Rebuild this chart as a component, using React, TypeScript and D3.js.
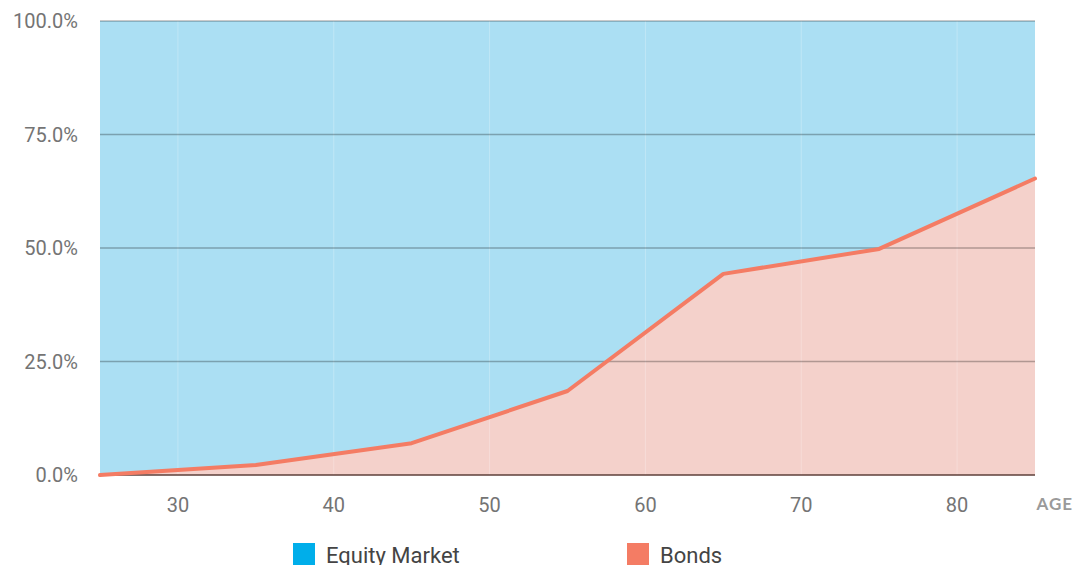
import { useEffect, useRef } from "react"
import * as d3 from "d3"

const ages = [25, 35, 45, 55, 65, 75, 85]
const bondShare = [0, 2.2, 7.0, 18.5, 44.3, 49.8, 65.3]
const xTicks = [30, 40, 50, 60, 70, 80]
const yTicks = [0, 25, 50, 75, 100]
const legendNames = ["Equity Market", "Bonds"]

const margin = { top: 21, left: 100, bottom: 90, right: 38 }
const W = 1073
const H = 565

export default function App() {
    const ref = useRef<SVGSVGElement>(null)

    useEffect(() => {
        const svg = d3.select(ref.current)
        svg.selectAll("*").remove()

        const width = W - margin.left - margin.right
        const height = H - margin.top - margin.bottom

        const x = d3.scaleLinear().domain([25, 85]).range([0, width])
        const y = d3.scaleLinear().domain([0, 100]).range([height, 0])

        const g = svg.append("g").attr("transform", `translate(${margin.left}, ${margin.top})`)

        // equity fills everything above bonds
        g.append("rect")
            .attr("width", width)
            .attr("height", height)
            .attr("fill", "#abdff3")

        const data = ages.map((a, i) => ({ age: a, v: bondShare[i] }))

        const area = d3.area<{ age: number, v: number }>()
            .x((d) => x(d.age))
            .y0(y(0))
            .y1((d) => y(d.v))

        g.append("path")
            .attr("d", area(data))
            .attr("fill", "#f4d1cb")

        // faint vertical guides
        g.selectAll(".vgrid")
            .data(xTicks)
            .join("line")
            .attr("class", "vgrid")
            .attr("x1", (d) => x(d))
            .attr("x2", (d) => x(d))
            .attr("y1", 0)
            .attr("y2", height)
            .attr("stroke", "#fff")
            .attr("stroke-opacity", 0.25)
            .attr("stroke-width", 1)

        g.selectAll(".hgrid")
            .data(yTicks.filter((d) => d > 0))
            .join("line")
            .attr("class", "hgrid")
            .attr("x1", 0)
            .attr("x2", width)
            .attr("y1", (d) => y(d))
            .attr("y2", (d) => y(d))
            .attr("stroke", "#000")
            .attr("stroke-opacity", 0.28)
            .attr("stroke-width", 1.5)

        g.append("line")
            .attr("x1", 0)
            .attr("x2", width)
            .attr("y1", y(0))
            .attr("y2", y(0))
            .attr("stroke", "#5e3f3a")
            .attr("stroke-width", 1.5)

        const line = d3.line<{ age: number, v: number }>()
            .x((d) => x(d.age))
            .y((d) => y(d.v))

        g.append("path")
            .attr("d", line(data))
            .attr("fill", "none")
            .attr("stroke", "#f47c64")
            .attr("stroke-width", 4)
            .attr("stroke-linejoin", "round")
            .attr("stroke-linecap", "round")

        g.selectAll(".ylab")
            .data(yTicks)
            .join("text")
            .attr("class", "ylab")
            .attr("x", -22)
            .attr("y", (d) => y(d))
            .attr("dy", "0.36em")
            .attr("text-anchor", "end")
            .style("font-family", "Roboto, sans-serif")
            .style("font-size", "20px")
            .attr("fill", "#747474")
            .text((d) => d3.format(".1f")(d) + "%")

        g.selectAll(".xlab")
            .data(xTicks)
            .join("text")
            .attr("class", "xlab")
            .attr("x", (d) => x(d))
            .attr("y", height + 30)
            .attr("dy", "0.36em")
            .attr("text-anchor", "middle")
            .style("font-family", "Roboto, sans-serif")
            .style("font-size", "20px")
            .attr("fill", "#747474")
            .text((d) => d)

        g.append("text")
            .attr("x", width + 38)
            .attr("y", height + 29)
            .attr("dy", "0.36em")
            .attr("text-anchor", "end")
            .style("font-family", "Lato, sans-serif")
            .style("font-size", "17px")
            .style("font-weight", "bold")
            .style("letter-spacing", "1px")
            .attr("fill", "#9a9a9a")
            .text("AGE")

        const legendX = d3.scaleOrdinal<string, number>().domain(legendNames).range([293, 627])
        const legendColor = d3.scaleOrdinal<string, string>().domain(legendNames).range(["#00aeea", "#f47c64"])

        const legend = svg.selectAll(".legend")
            .data(legendNames)
            .join("g")
            .attr("class", "legend")
            .attr("transform", (d) => `translate(${legendX(d)}, 543)`)

        legend.append("rect")
            .attr("width", 22)
            .attr("height", 22)
            .attr("fill", (d) => legendColor(d))

        legend.append("text")
            .attr("x", 33)
            .attr("y", 20)
            .style("font-family", "Roboto, sans-serif")
            .style("font-size", "22px")
            .attr("fill", "#444")
            .text((d) => d)
    }, [])

    return (
        <svg ref={ref} width={W} height={H} style={{ position: "absolute", left: 0, top: 0 }}></svg>
    )
}
